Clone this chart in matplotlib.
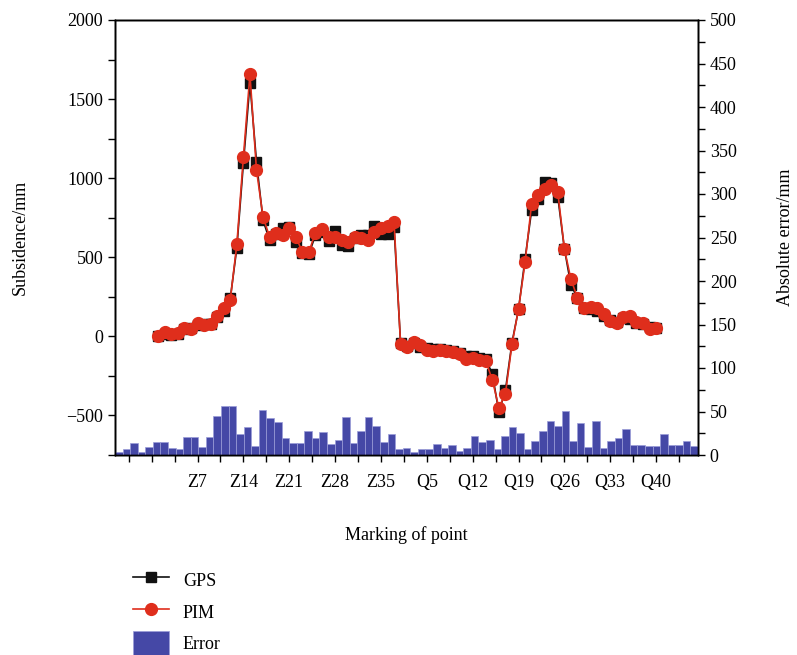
import matplotlib
matplotlib.use("Agg")
import matplotlib.pyplot as plt
from matplotlib.patches import Patch
from matplotlib.lines import Line2D
import numpy as np

plt.rcParams['font.family'] = ['Liberation Serif', 'DejaVu Serif']
plt.rcParams['font.size'] = 13

# points Z1..Z37 then Q1..Q40
point_names = ['Z%d' % i for i in range(1, 38)] + ['Q%d' % i for i in range(1, 41)]

gps = [0, 15, 10, 15, 45, 50, 75, 80, 80, 120, 160, 240, 560, 1095, 1600, 1103, 734,
       608, 650, 684, 690, 597, 525, 520, 640, 660, 605, 665, 580, 570, 620, 640, 640,
       700, 650, 650, 690,
       -45, -60, -40, -65, -75, -80, -80, -85, -95, -105, -125, -125, -135, -145, -236,
       -479, -342, -40, 170, 490, 797, 870, 977, 970, 882, 555, 323, 245, 180, 175, 160,
       130, 105, 90, 115, 110, 85, 80, 60, 55]

pim = [2, 27, 13, 19, 50, 44, 87, 70, 76, 127, 177, 232, 582, 1133, 1657, 1051, 755,
       629, 652, 639, 682, 629, 534, 534, 656, 677, 629, 629, 608, 597, 629, 623, 608,
       660, 682, 698, 724,
       -51, -68, -36, -57, -84, -93, -84, -93, -99, -110, -141, -135, -148, -156, -274,
       -451, -363, -51, 173, 467, 838, 893, 930, 956, 910, 555, 361, 245, 179, 186, 182,
       139, 97, 87, 122, 129, 91, 87, 49, 55]

error = [3.4, 7.3, 13.8, 3.4, 9.2, 14.9, 14.6, 8.1, 6.5, 20.3,
         20.3, 8.8, 20.7, 45.2, 56.7, 56, 23.8, 31.8, 10.3, 51.3,
         42.9, 37.9, 19.1, 13.4, 13.4, 27.2, 19.9, 26.4, 13, 16.9,
         43.3, 13.4, 27.2, 43.3, 32.9, 14.9, 24.5, 7.3, 8.4, 3.4,
         6.5, 7.3, 12.3, 8, 11.1, 4.9, 7.7, 21.8, 14.9, 16.9,
         7, 22.2, 32.2, 24.9, 7, 15.7, 27.6, 39.5, 33.3, 51,
         16.1, 36.4, 8.8, 39.5, 8, 16.1, 19.5, 29.5, 11.9, 11.9,
         10.8, 10.3, 23.8, 11.5, 11.5, 16.1, 10.8]

tick_labels = ['Z7', 'Z14', 'Z21', 'Z28', 'Z35', 'Q5', 'Q12', 'Q19', 'Q26', 'Q33', 'Q40']

idx = np.arange(1, len(point_names) + 1)
tick_pos = [point_names.index(t) + 1 for t in tick_labels]

red = '#df2e1c'
blue = '#4548a6'

fig = plt.figure(figsize=(7.97, 6.55), dpi=100)
ax = fig.add_axes([115/797, 1 - 455/655, 583/797, 435/655])
axr = ax.twinx()
axb = axr.twiny()

# error bars on their own x scale, filling the whole width
axb.bar(idx, error, width=1.0, color=blue, edgecolor='#9a9cd8', linewidth=0.5)
axb.set_xlim(0.5, len(idx) + 0.5)
axb.tick_params(top=False, labeltop=False)
axr.set_ylim(0, 500)
axr.set_yticks(np.arange(0, 501, 50))
axr.set_yticks(np.arange(0, 501, 25), minor=True)
axr.set_ylabel('Absolute error/mm', labelpad=29)

ax.set_zorder(axb.get_zorder() + 1)
ax.patch.set_visible(False)
ax.plot(idx, gps, color='#111111', marker='s', ms=7, lw=1.2, label='GPS')
ax.plot(idx, pim, color=red, marker='o', ms=8.5, lw=1.2, label='PIM')
ax.set_xlim(-5.6, 83.4)
ax.set_ylim(-750, 2000)
ax.set_yticks(np.arange(-500, 2001, 500))
ax.set_yticks(np.arange(-750, 2001, 250), minor=True)
ax.set_xticks(tick_pos)
ax.set_xticklabels(tick_labels)
ax.set_xticks(np.arange(-3.5, 83, 3.5), minor=True)
ax.set_ylabel('Subsidence/mm', labelpad=27)
ax.set_xlabel('Marking of point', labelpad=25)

for a in (ax, axr):
    a.tick_params(which='both', direction='out', width=1)
    a.tick_params(which='major', length=5)
    a.tick_params(which='minor', length=5)
ax.tick_params(axis='x', which='major', pad=9)
for a in (ax, axr, axb):
    for s in a.spines.values():
        s.set_linewidth(1)

handles = [Line2D([], [], color='#111111', marker='s', ms=7, lw=1.2),
           Line2D([], [], color=red, marker='o', ms=8.5, lw=1.2),
           Patch(facecolor=blue, edgecolor='#9a9cd8', linewidth=0.5)]
fig.legend(handles, ['GPS', 'PIM', 'Error'], loc='upper left',
           bbox_to_anchor=(126/797, 1 - 561/655), frameon=False,
           handlelength=2.0, handleheight=1.7, labelspacing=0.4, handletextpad=0.75,
           borderaxespad=0)

fig.savefig('out.png', dpi=100)
